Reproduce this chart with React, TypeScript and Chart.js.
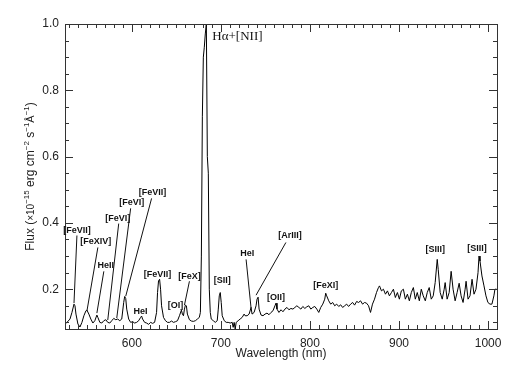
import React, { useEffect, useRef } from 'react';
import { Chart, registerables } from 'chart.js';

Chart.register(...registerables);

// Spectrum: observed wavelength (nm) and flux (1e-15 erg cm^-2 s^-1 A^-1)
const wavelength = [
  525.0, 527.2, 530.6, 532.8, 535.1, 536.2, 537.3, 539.5, 541.8, 544.0,
  546.2, 548.5, 549.6, 551.8, 554.0, 556.3, 558.5, 560.8, 561.9, 564.1,
  566.3, 568.6, 570.8, 573.0, 575.3, 577.5, 579.7, 582.0, 584.2, 586.5,
  588.7, 590.9, 592.0, 593.2, 594.3, 596.5, 598.7, 601.0, 603.2, 605.4,
  607.7, 609.9, 611.0, 612.1, 614.4, 616.6, 618.9, 621.1, 623.3, 625.6,
  627.8, 628.9, 630.0, 631.2, 632.3, 633.4, 635.6, 637.8, 640.1, 642.3,
  644.6, 646.8, 649.0, 651.3, 653.5, 655.7, 656.8, 658.0, 659.1, 660.2,
  661.3, 662.4, 664.7, 666.9, 669.1, 671.4, 673.6, 675.8, 677.0, 678.1,
  679.2, 680.3, 681.4, 682.5, 683.7, 684.8, 685.9, 687.0, 688.1, 689.2,
  691.5, 693.7, 695.9, 697.1, 698.2, 699.3, 700.4, 701.5, 703.8, 706.0,
  708.2, 710.5, 712.7, 713.8, 714.9, 716.1, 717.2, 719.4, 721.6, 723.9,
  726.1, 727.2, 729.5, 731.7, 733.9, 735.0, 737.3, 739.5, 740.6, 741.8,
  742.9, 745.1, 747.3, 749.6, 751.8, 754.0, 756.3, 758.5, 760.7, 761.9,
  763.0, 765.2, 767.5, 769.7, 771.9, 774.2, 776.4, 778.6, 780.9, 783.1,
  785.3, 787.6, 789.8, 792.0, 794.3, 796.5, 798.7, 801.0, 803.2, 805.4,
  807.7, 809.9, 812.1, 814.4, 816.6, 817.7, 818.8, 821.1, 823.3, 825.5,
  827.8, 830.0, 832.3, 834.5, 836.7, 839.0, 841.2, 843.4, 845.7, 847.9,
  850.1, 852.4, 854.6, 856.8, 859.1, 861.3, 863.5, 865.8, 868.0, 870.2,
  872.5, 874.7, 876.9, 878.1, 880.3, 882.5, 884.8, 887.0, 889.2, 891.5,
  893.7, 895.9, 898.2, 900.4, 902.6, 904.9, 907.1, 909.4, 911.6, 913.8,
  916.1, 918.3, 920.5, 922.8, 925.0, 927.2, 929.5, 931.7, 933.9, 936.2,
  938.4, 940.6, 942.9, 944.0, 946.2, 948.5, 950.7, 951.8, 954.0, 956.3,
  958.5, 960.7, 963.0, 965.2, 967.5, 969.7, 971.9, 974.2, 975.3, 977.5,
  979.7, 982.0, 984.2, 986.4, 988.7, 989.8, 990.9, 993.1, 995.4, 997.6,
  999.8, 1002.1, 1004.3, 1006.5, 1007.7, 1009.5,
];

const flux = [
  0.095, 0.10, 0.11, 0.13, 0.155, 0.15, 0.125, 0.095, 0.086, 0.10,
  0.12, 0.135, 0.137, 0.125, 0.11, 0.098, 0.105, 0.122, 0.115, 0.10,
  0.098, 0.105, 0.108, 0.10, 0.098, 0.105, 0.112, 0.108, 0.11, 0.105,
  0.11, 0.16, 0.178, 0.172, 0.14, 0.11, 0.10, 0.102, 0.098, 0.10,
  0.105, 0.115, 0.119, 0.11, 0.10, 0.098, 0.094, 0.10, 0.097, 0.10,
  0.13, 0.19, 0.225, 0.23, 0.20, 0.15, 0.115, 0.105, 0.10, 0.10,
  0.104, 0.10, 0.102, 0.105, 0.12, 0.137, 0.125, 0.12, 0.14, 0.152,
  0.15, 0.125, 0.108, 0.104, 0.103, 0.105, 0.11, 0.115, 0.13, 0.3,
  0.72, 0.9, 0.93, 0.97, 1.0, 0.6, 0.55, 0.2, 0.13, 0.11,
  0.105, 0.10, 0.105, 0.14, 0.18, 0.19, 0.16, 0.12, 0.105, 0.10,
  0.10, 0.098, 0.10, 0.085, 0.10, 0.08, 0.10, 0.105, 0.11, 0.115,
  0.125, 0.12, 0.12, 0.125, 0.145, 0.125, 0.13, 0.15, 0.17, 0.176,
  0.14, 0.122, 0.12, 0.125, 0.128, 0.123, 0.13, 0.135, 0.15, 0.158,
  0.14, 0.13, 0.138, 0.132, 0.14, 0.145, 0.138, 0.142, 0.14, 0.145,
  0.15, 0.145, 0.14, 0.148, 0.142, 0.147, 0.15, 0.14, 0.145, 0.148,
  0.14, 0.13, 0.145, 0.155, 0.17, 0.188, 0.18, 0.165, 0.155, 0.16,
  0.15, 0.155, 0.148, 0.153, 0.145, 0.15, 0.155, 0.148, 0.155, 0.16,
  0.152, 0.163, 0.16, 0.165, 0.155, 0.16, 0.158, 0.15, 0.13, 0.155,
  0.17, 0.19, 0.205, 0.21, 0.195, 0.2, 0.185, 0.195, 0.18, 0.19,
  0.2, 0.175, 0.19, 0.17, 0.195, 0.2, 0.17, 0.185, 0.165, 0.19,
  0.205, 0.17, 0.19, 0.165, 0.2, 0.18, 0.165, 0.19, 0.205, 0.17,
  0.18, 0.22, 0.29, 0.26, 0.19, 0.17, 0.2, 0.22, 0.17, 0.19,
  0.254, 0.2, 0.165, 0.19, 0.218, 0.18, 0.16, 0.2, 0.224, 0.17,
  0.18, 0.23, 0.185, 0.2, 0.25, 0.3, 0.285, 0.24, 0.21, 0.18,
  0.16, 0.155, 0.155, 0.18, 0.2, 0.2,
];

const xTickValues = [600, 700, 800, 900, 1000];
const yTickValues = [0.2, 0.4, 0.6, 0.8, 1.0];

// Line identifications: label anchor and optional leader line (data units)
const lineIds = [
  { text: '[FeVII]', at: [538.4, 0.377], from: [538.4, 0.362], to: [535.1, 0.158] },
  { text: '[FeXIV]', at: [559.6, 0.344], from: [561.9, 0.326], to: [549.6, 0.134] },
  { text: 'HeII', at: [570.8, 0.272], from: [568.6, 0.254], to: [560.8, 0.128] },
  { text: '[FeVI]', at: [584.2, 0.414], from: [585.3, 0.398], to: [573.0, 0.107] },
  { text: '[FeVI]', at: [599.9, 0.462], from: [598.7, 0.444], to: [583.1, 0.113] },
  { text: '[FeVII]', at: [623.3, 0.492], from: [622.2, 0.474], to: [593.2, 0.179] },
  { text: 'HeI', at: [609.9, 0.134] },
  { text: '[FeVII]', at: [628.9, 0.245] },
  { text: '[OI]', at: [649.0, 0.152] },
  { text: '[FeX]', at: [664.7, 0.239], from: [664.7, 0.224], to: [659.1, 0.152] },
  { text: '[SII]', at: [701.5, 0.227] },
  { text: 'HeI', at: [729.5, 0.308], from: [728.3, 0.29], to: [733.9, 0.143] },
  { text: '[ArIII]', at: [777.5, 0.362], from: [773.0, 0.341], to: [739.5, 0.182] },
  { text: '[OII]', at: [761.9, 0.176] },
  { text: '[FeXI]', at: [817.7, 0.212] },
  { text: '[SIII]', at: [940.6, 0.32] },
  { text: '[SIII]', at: [987.6, 0.323] },
];
const peakLabel = { text: 'Hα+[NII]', at: [690.4, 0.961] };

const xTitle = 'Wavelength (nm)';
const yTitleParts = [
  { t: 'Flux (', s: 12, sup: false },
  { t: '×10', s: 10, sup: false },
  { t: '−15', s: 8, sup: true },
  { t: ' erg cm', s: 12, sup: false },
  { t: '−2', s: 8, sup: true },
  { t: ' s', s: 12, sup: false },
  { t: '−1', s: 8, sup: true },
  { t: 'Å', s: 11, sup: false },
  { t: '−1', s: 8, sup: true },
  { t: ')', s: 12, sup: false },
];

const SANS = '"Liberation Sans", Arial, Helvetica, sans-serif';

const framePlugin = {
  id: 'idlFrame',
  afterDraw(chart: any) {
    const { ctx, chartArea: a } = chart;
    const xs = chart.scales.x;
    const ys = chart.scales.y;
    ctx.save();
    ctx.strokeStyle = '#333';
    ctx.lineWidth = 1;
    ctx.strokeRect(Math.round(a.left) + 0.5, Math.round(a.top) + 0.5, Math.round(a.right - a.left), Math.round(a.bottom - a.top));
    ctx.beginPath();
    for (let v = 530; v <= 1010; v += 10) {
      const px = Math.round(xs.getPixelForValue(v)) + 0.5;
      const len = v % 100 === 0 ? 8 : 4;
      ctx.moveTo(px, a.bottom);
      ctx.lineTo(px, a.bottom - len);
      ctx.moveTo(px, a.top);
      ctx.lineTo(px, a.top + len);
    }
    for (let i = 2; i <= 20; i++) {
      const v = i * 0.05;
      const py = Math.round(ys.getPixelForValue(v)) + 0.5;
      const len = i % 4 === 0 ? 8 : 4;
      ctx.moveTo(a.left, py);
      ctx.lineTo(a.left + len, py);
      ctx.moveTo(a.right, py);
      ctx.lineTo(a.right - len, py);
    }
    ctx.stroke();

    // line identifications
    ctx.strokeStyle = '#111';
    ctx.fillStyle = '#111';
    ctx.font = `bold 9px ${SANS}`;
    ctx.textAlign = 'center';
    ctx.textBaseline = 'middle';
    ctx.beginPath();
    for (const id of lineIds) {
      ctx.fillText(id.text, xs.getPixelForValue(id.at[0]), ys.getPixelForValue(id.at[1]));
      if (id.from && id.to) {
        ctx.moveTo(xs.getPixelForValue(id.from[0]), ys.getPixelForValue(id.from[1]));
        ctx.lineTo(xs.getPixelForValue(id.to[0]), ys.getPixelForValue(id.to[1]));
      }
    }
    ctx.stroke();

    ctx.font = '13px "Liberation Serif", "Times New Roman", serif';
    ctx.textAlign = 'left';
    ctx.fillText(peakLabel.text, xs.getPixelForValue(peakLabel.at[0]), ys.getPixelForValue(peakLabel.at[1]));

    // x title
    ctx.fillStyle = '#222';
    ctx.font = `12px ${SANS}`;
    ctx.textAlign = 'center';
    ctx.fillText(xTitle, (a.left + a.right) / 2, 354);

    // y title (rotated, with superscripts)
    ctx.save();
    ctx.translate(30, (a.top + a.bottom) / 2);
    ctx.rotate(-Math.PI / 2);
    ctx.textAlign = 'left';
    ctx.textBaseline = 'alphabetic';
    let total = 0;
    for (const p of yTitleParts) {
      ctx.font = `${p.s}px ${SANS}`;
      total += ctx.measureText(p.t).width;
    }
    let cx = -total / 2;
    for (const p of yTitleParts) {
      ctx.font = `${p.s}px ${SANS}`;
      ctx.fillText(p.t, cx, p.sup ? -1 : 4);
      cx += ctx.measureText(p.t).width;
    }
    ctx.restore();
    ctx.restore();
  },
};

export default function App() {
  const canvasRef = useRef<HTMLCanvasElement>(null);

  useEffect(() => {
    const canvas = canvasRef.current;
    if (!canvas) return;
    const points = wavelength.map((w, i) => ({ x: w, y: flux[i] }));
    const chart = new Chart(canvas, {
      type: 'line',
      data: {
        datasets: [
          {
            data: points,
            borderColor: '#000',
            borderWidth: 1,
            pointRadius: 0,
            tension: 0,
            fill: false,
          },
        ],
      },
      options: {
        animation: false,
        responsive: false,
        devicePixelRatio: 1,
        layout: { padding: { left: 0, right: 21, top: 24, bottom: 0 } },
        plugins: { legend: { display: false }, tooltip: { enabled: false }, title: { display: false } },
        scales: {
          x: {
            type: 'linear',
            min: 525,
            max: 1010,
            grid: { display: false, drawTicks: false },
            border: { display: false },
            afterBuildTicks: (s: any) => {
              s.ticks = xTickValues.map((v) => ({ value: v }));
            },
            afterFit: (s: any) => {
              s.height = 41;
            },
            ticks: {
              padding: 7,
              maxRotation: 0,
              color: '#222',
              font: { family: SANS, size: 12 },
              callback: (v: any) => String(v),
            },
          },
          y: {
            type: 'linear',
            min: 0.08,
            max: 1.0,
            grid: { display: false, drawTicks: false },
            border: { display: false },
            afterBuildTicks: (s: any) => {
              s.ticks = yTickValues.map((v) => ({ value: v }));
            },
            afterFit: (s: any) => {
              s.width = 65;
            },
            ticks: {
              padding: 6,
              color: '#222',
              font: { family: SANS, size: 12 },
              callback: (v: any) => Number(v).toFixed(1),
            },
          },
        },
      },
      plugins: [framePlugin],
    });
    return () => chart.destroy();
  }, []);

  return (
    <div style={{ position: 'absolute', left: 0, top: 0, width: 518, height: 370, background: '#fff' }}>
      <canvas ref={canvasRef} width={518} height={370} />
    </div>
  );
}
